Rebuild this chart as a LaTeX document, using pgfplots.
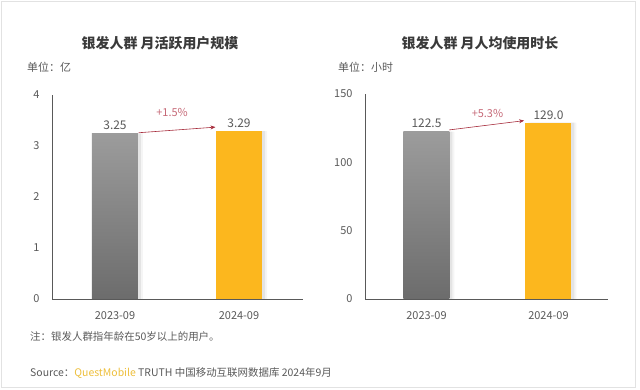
\documentclass[border=0pt]{standalone}
\usepackage{fontspec}
\setmainfont{Noto Sans CJK SC}
\usepackage{pgfplots}
\pgfplotsset{compat=1.18}
\usetikzlibrary{arrows.meta}
\definecolor{txt}{HTML}{595959}
\definecolor{ttl}{HTML}{3A3A3A}
\definecolor{gold}{HTML}{FCB71E}
\definecolor{barTop}{HTML}{9C9C9C}
\definecolor{barBot}{HTML}{6C6C6C}
\definecolor{arr}{HTML}{A62B3B}
\definecolor{pct}{HTML}{C66A78}
\definecolor{qm}{HTML}{EDBE3A}
\definecolor{frame}{HTML}{E2E2E2}
\pgfplotsset{
  mystyle/.style={
    scale only axis,
    axis x line=bottom, axis y line=left,
    axis line style={-, draw=txt, line width=0.8pt},
    major tick length=0pt,
    tick label style={font=\fontsize{11}{13}\selectfont, text=txt},
    yticklabel style={xshift=-9bp},
    xticklabel style={yshift=-9bp},
    /pgf/number format/assume math mode=true,
    xtick={0,1}, xticklabels={2023-09,2024-09},
    ymin=0, clip=false,
    every node near coord/.append style={font=\fontsize{12}{14}\selectfont, text=txt},
  },
  shadow/.style={ybar, bar width=46bp, draw=none, fill=black, forget plot},
  greybar/.style={ybar, bar width=46bp, bar shift=0pt, draw=none, top color=barTop, bottom color=barBot, nodes near coords, point meta=explicit symbolic},
  goldbar/.style={ybar, bar width=46bp, bar shift=0pt, draw=none, fill=gold, nodes near coords, point meta=explicit symbolic},
}
\begin{document}
\begin{tikzpicture}
\path[use as bounding box] (0,0) rectangle (640bp,390bp);
\draw[frame, line width=0.8pt] (1.5bp,3bp) rectangle (635bp,389bp);

% titles and notes
\node[font=\fontsize{14}{16}\selectfont\bfseries, text=ttl] at (160bp,347bp) {银发人群 月活跃用户规模};
\node[font=\fontsize{14}{16}\selectfont\bfseries, text=ttl] at (480bp,347bp) {银发人群 月人均使用时长};
\node[anchor=west, inner sep=0pt, font=\fontsize{11}{13}\selectfont, text=txt] at (27bp,323bp) {单位：亿};
\node[anchor=west, inner sep=0pt, font=\fontsize{11}{13}\selectfont, text=txt] at (338bp,323bp) {单位：小时};
\node[anchor=west, inner sep=0pt, font=\fontsize{10.5}{12}\selectfont, text=txt] at (30bp,53bp) {注：银发人群指年龄在50岁以上的用户。};
\node[anchor=west, inner sep=0pt, font=\fontsize{10.5}{12}\selectfont, text=txt] at (30bp,17bp) {Source：{\color{qm}QuestMobile} TRUTH 中国移动互联网数据库 2024年9月};

% left chart
\begin{axis}[mystyle, at={(52bp,91bp)}, anchor=south west,
  width=251bp, height=204bp, ymax=4, ytick={0,1,2,3,4},
  xmin=-0.508, xmax=1.516]
  \addplot[shadow, bar shift=3bp, opacity=0.07] coordinates {(0,3.25) (1,3.29)};
  \addplot[shadow, bar shift=5bp, opacity=0.04] coordinates {(0,3.25) (1,3.29)};
  \addplot[greybar] coordinates {(0,3.25) [3.25]};
  \addplot[goldbar] coordinates {(1,3.29) [3.29]};
  \draw[arr, line width=0.6pt, -{Stealth[length=5bp,width=4bp]}] (axis cs:0.19,3.26) -- (axis cs:0.81,3.37);
  \node[text=pct, font=\fontsize{11}{13}\selectfont] at (axis cs:0.46,3.65) {+1.5\%};
\end{axis}

% right chart
\begin{axis}[mystyle, at={(365bp,91bp)}, anchor=south west,
  width=243bp, height=205bp, ymax=150, ytick={0,50,100,150},
  xmin=-0.504, xmax=1.488]
  \addplot[shadow, bar shift=3bp, opacity=0.07] coordinates {(0,122.5) (1,129.0)};
  \addplot[shadow, bar shift=5bp, opacity=0.04] coordinates {(0,122.5) (1,129.0)};
  \addplot[greybar] coordinates {(0,122.5) [122.5]};
  \addplot[goldbar] coordinates {(1,129.0) [129.0]};
  \draw[arr, line width=0.6pt, -{Stealth[length=5bp,width=4bp]}] (axis cs:0.185,123.7) -- (axis cs:0.8,130.5);
  \node[text=pct, font=\fontsize{11}{13}\selectfont] at (axis cs:0.5,136) {+5.3\%};
\end{axis}
\end{tikzpicture}
\end{document}
